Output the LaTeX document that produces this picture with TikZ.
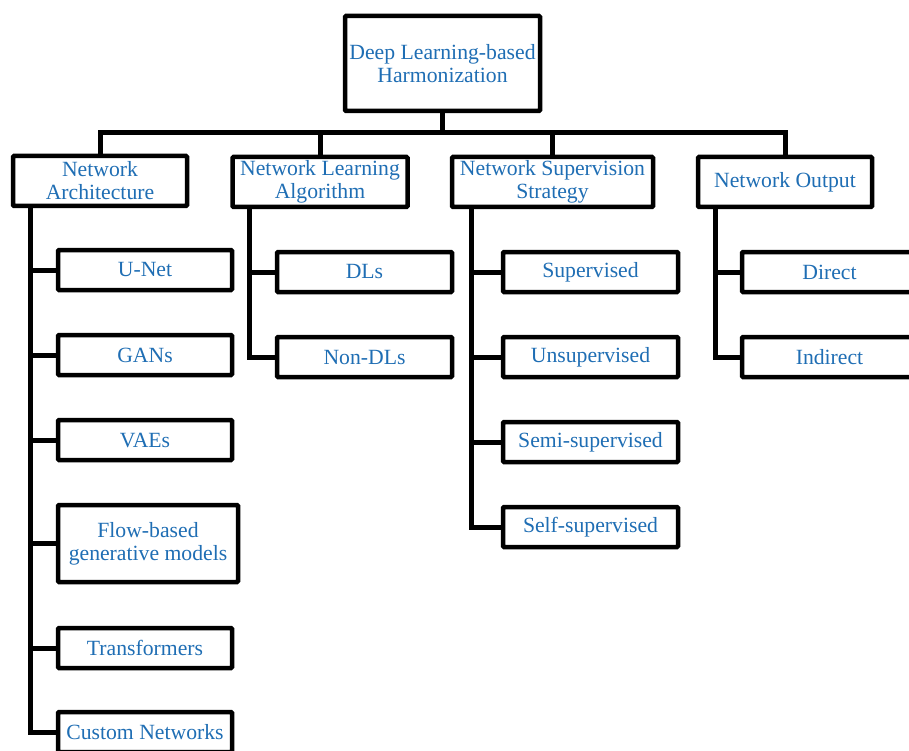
\documentclass[tikz,border=0pt]{standalone}
\usepackage{fontspec}
\setmainfont{Liberation Serif}
\definecolor{txtblue}{HTML}{1F6EB4}
\begin{document}
\begin{tikzpicture}[x=1pt,y=-1pt,
  box/.style={draw=black, line width=4.5pt, rounded corners=1pt, fill=white,
    text=txtblue, align=center, inner sep=0pt,
    font=\fontsize{21.7}{23}\selectfont},
  conn/.style={draw=black, line width=5pt}]
\useasboundingbox (0,0) rectangle (909,751);
\clip (0,0) rectangle (909,751);
% root
\node[box, minimum width=195pt, minimum height=95pt] (root) at (442.5,63.5) {Deep Learning-based\\Harmonization};
% level 1
\node[box, minimum width=174pt, minimum height=50pt] (na) at (100,181) {Network\\Architecture};
\node[box, minimum width=175pt, minimum height=50pt] (nla) at (320,182) {Network Learning\\Algorithm};
\node[box, minimum width=201pt, minimum height=50pt] (nss) at (552.5,182) {Network Supervision\\Strategy};
\node[box, minimum width=174pt, minimum height=50pt] (no) at (785,182) {Network Output};
% NA children
\node[box, minimum width=174pt, minimum height=40pt] (unet) at (145,270) {U-Net};
\node[box, minimum width=174pt, minimum height=40pt] (gans) at (145,355) {GANs};
\node[box, minimum width=174pt, minimum height=40pt] (vaes) at (145,440) {VAEs};
\node[box, minimum width=180pt, minimum height=77pt] (flow) at (148,543.5) {Flow-based\\generative models};
\node[box, minimum width=174pt, minimum height=40pt] (trans) at (145,648) {Transformers};
\node[box, minimum width=174pt, minimum height=40pt] (cust) at (145,732) {Custom Networks};
% NLA children
\node[box, minimum width=175pt, minimum height=40pt] (dls) at (364.5,272) {DLs};
\node[box, minimum width=175pt, minimum height=40pt] (ndls) at (364.5,357) {Non-DLs};
% NSS children
\node[box, minimum width=175pt, minimum height=40pt] (sup) at (590.5,272) {Supervised};
\node[box, minimum width=175pt, minimum height=40pt] (uns) at (590.5,357) {Unsupervised};
\node[box, minimum width=175pt, minimum height=40pt] (semi) at (590.5,442) {Semi-supervised};
\node[box, minimum width=175pt, minimum height=40pt] (self) at (590.5,527) {Self-supervised};
% NO children
\node[box, minimum width=175pt, minimum height=40pt] (dir) at (829.5,272) {Direct};
\node[box, minimum width=175pt, minimum height=40pt] (ind) at (829.5,357) {Indirect};
% bus
\coordinate (bus) at (442.5,133);
\draw[conn] (root.south) -- (bus);
\draw[conn] (na.north) -- (na.north |- bus) -- (no.north |- bus) -- (no.north);
\draw[conn] (nla.north) -- (nla.north |- bus);
\draw[conn] (nss.north) -- (nss.north |- bus);
% spines
\coordinate (naS) at (30,205);
\coordinate (nlaS) at (249,207);
\coordinate (nssS) at (471,207);
\coordinate (noS) at (715,207);
\draw[conn] (naS) |- (cust.west);
\foreach \c in {unet,gans,vaes,flow,trans} \draw[conn] (naS |- \c.west) -- (\c.west);
\draw[conn] (nlaS) |- (ndls.west);
\draw[conn] (nlaS |- dls.west) -- (dls.west);
\draw[conn] (nssS) |- (self.west);
\foreach \c in {sup,uns,semi} \draw[conn] (nssS |- \c.west) -- (\c.west);
\draw[conn] (noS) |- (ind.west);
\draw[conn] (noS |- dir.west) -- (dir.west);
\end{tikzpicture}
\end{document}
